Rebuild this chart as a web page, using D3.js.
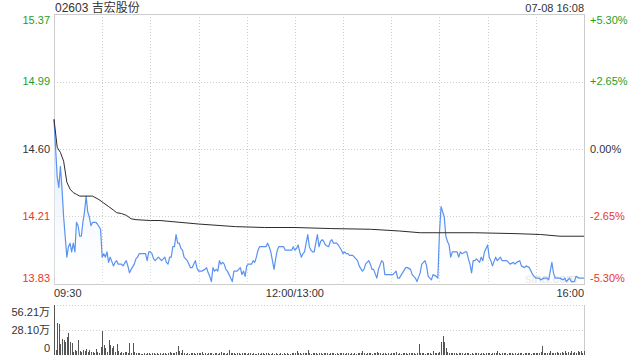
<!DOCTYPE html>
<html>
<head>
<meta charset="utf-8">
<script src="https://cdn.jsdelivr.net/npm/d3@7"></script>
<style>
  body { margin: 0; background: #fff; }
  svg { display: block; font-family: "Liberation Sans", "Noto Sans CJK SC", Arial, sans-serif; }
</style>
</head>
<body>
<svg width="640" height="360"></svg>
<script>
const title = "02603 吉宏股份";
const stamp = "07-08 16:08";
const prevClose = 14.60;
const pctTicks = [5.30, 2.65, 0, -2.65, -5.30];
const timeLabels = ["09:30", "12:00/13:00", "16:00"];
const timeLabelMinutes = [0, 150, 330];
const volTickLabels = ["56.21万", "28.10万", "0"];
const volMax = 56.21;

// [minute since 09:30 (lunch removed), price]
const pricePoints = [[0,14.77],[2,14.44],[3,14.38],[4,14.50],[5,14.37],[6,14.21],[8,13.98],[9,14.04],[10,14.06],[11,14.01],[12,14.06],[13,14.01],[14,14.18],[15,14.16],[16,14.10],[17,14.10],[18,14.18],[19,14.24],[20,14.33],[21,14.24],[22,14.21],[23,14.16],[24,14.18],[26,14.18],[27,14.17],[29,14.14],[30,13.98],[31,14.00],[32,13.98],[33,14.01],[34,13.95],[35,13.98],[37,13.93],[38,13.95],[39,13.96],[40,13.94],[42,13.94],[43,13.93],[45,13.96],[46,13.93],[47,13.89],[48,13.91],[50,13.94],[51,13.97],[52,13.98],[53,14.00],[55,14.00],[57,14.00],[58,13.96],[59,14.01],[60,14.01],[61,14.00],[62,13.97],[63,13.96],[64,13.97],[65,13.98],[67,13.96],[68,13.97],[69,13.98],[70,13.95],[71,13.94],[72,13.98],[73,13.98],[74,14.04],[75,14.04],[76,14.11],[77,14.06],[78,14.06],[79,14.03],[80,14.02],[81,13.98],[82,13.97],[83,13.96],[85,13.92],[86,13.92],[87,13.94],[88,13.96],[89,13.92],[90,13.90],[91,13.90],[92,13.90],[94,13.91],[95,13.92],[96,13.89],[97,13.87],[98,13.84],[99,13.92],[100,13.90],[101,13.91],[102,13.90],[103,13.96],[104,13.94],[105,13.95],[106,13.94],[107,13.91],[108,13.90],[110,13.86],[111,13.84],[112,13.90],[113,13.90],[114,13.90],[116,13.92],[117,13.88],[118,13.90],[119,13.87],[120,13.93],[121,13.94],[122,13.94],[123,13.94],[124,13.96],[125,13.95],[126,13.98],[127,14.02],[128,14.04],[130,14.04],[131,14.04],[132,14.04],[133,14.06],[134,14.04],[135,14.01],[136,13.96],[137,13.91],[138,13.97],[139,14.02],[140,14.04],[141,14.04],[143,14.04],[144,14.02],[146,14.02],[148,14.02],[149,14.04],[150,14.02],[151,14.03],[152,14.05],[153,14.01],[154,13.98],[155,14.00],[156,14.01],[157,14.06],[158,14.11],[159,14.04],[160,14.02],[161,14.01],[162,14.01],[163,14.06],[164,14.11],[165,14.04],[166,14.07],[167,14.08],[168,14.07],[169,14.05],[171,14.04],[172,14.07],[173,14.08],[174,14.06],[176,14.06],[177,14.05],[179,14.02],[180,14.00],[181,14.01],[182,14.00],[183,14.00],[184,13.99],[186,13.99],[187,13.98],[189,13.96],[190,13.93],[192,13.90],[193,13.91],[194,13.94],[196,13.96],[197,13.94],[198,13.91],[199,13.91],[201,13.86],[202,13.91],[204,13.96],[205,13.95],[206,13.88],[208,13.88],[211,13.88],[213,13.90],[214,13.86],[215,13.86],[217,13.89],[219,13.92],[220,13.92],[222,13.91],[223,13.88],[225,13.86],[226,13.84],[228,13.89],[229,13.94],[231,13.96],[232,13.93],[233,13.87],[235,13.85],[236,13.88],[238,13.87],[239,13.86],[240,14.12],[241,14.27],[243,14.21],[244,14.10],[245,14.07],[246,14.05],[247,13.98],[248,14.01],[249,14.01],[250,14.01],[251,14.01],[252,13.98],[253,14.01],[254,14.00],[256,14.01],[257,14.01],[258,13.97],[259,13.94],[260,13.89],[261,13.96],[262,13.96],[263,13.97],[265,13.95],[266,13.98],[267,13.96],[268,14.01],[270,14.05],[271,13.98],[272,13.96],[273,13.93],[275,13.98],[276,13.96],[278,13.98],[279,13.96],[281,13.96],[282,13.96],[284,13.94],[286,13.95],[287,13.94],[288,13.95],[290,13.96],[291,13.93],[293,13.92],[294,13.93],[296,13.92],[297,13.90],[298,13.88],[300,13.86],[302,13.86],[303,13.85],[305,13.86],[307,13.86],[308,13.85],[310,13.95],[311,13.89],[312,13.86],[314,13.86],[315,13.86],[317,13.85],[318,13.86],[319,13.84],[321,13.86],[322,13.84],[324,13.84],[325,13.87],[327,13.86],[328,13.86],[330,13.86]];

const avgPoints = [[0,14.77],[2,14.61],[4,14.58],[6,14.53],[8,14.41],[10,14.37],[12,14.35],[14,14.34],[16,14.33],[24,14.33],[28,14.31],[31,14.29],[34,14.27],[37,14.25],[39,14.235],[42,14.23],[45,14.22],[48,14.20],[51,14.195],[60,14.19],[66,14.19],[90,14.17],[113,14.155],[131,14.15],[150,14.15],[172,14.144],[197,14.14],[215,14.13],[228,14.12],[262,14.12],[287,14.115],[303,14.11],[315,14.10],[330,14.10]];

// volume per minute, in 万 shares
const volumes = [
  56.2, 6, 36, 35, 12, 18, 17, 14.6, 20, 25,
  14.6, 13.5, 3.4, 5.6, 4, 16.9, 4.5, 3, 5.6, 4,
  6.7, 3.4, 5.6, 3, 3.4, 2.5, 6.7, 3, 2.8, 9,
  27, 11.2, 7.9, 3.5, 16.9, 11.2, 7.9, 10.1, 3, 12.4,
  4.5, 2.5, 3.4, 2.2, 3.4, 3.4, 2.5, 13.5, 2.8, 13.1,
  3.4, 2.2, 1.8, 2.5, 1.6, 1.2, 2, 1.5, 1.8, 2.6,
  1.4, 1.8, 2.4, 1.2, 2, 1.6, 2.8, 1.5, 1.8, 2.2,
  1.6, 2.4, 3, 1.8, 2.5, 2, 3.2, 10.1, 4.5, 2.2,
  5.6, 2, 1.6, 2.8, 1.5, 2.4, 1.8, 2.6, 1.4, 2,
  1.8, 2.5, 3.4, 1.6, 2.2, 1.4, 2.8, 1.8, 2.4, 1.5,
  2, 2.6, 1.6, 2.2, 3, 1.8, 2.4, 1.6, 2.8, 5.6,
  2.4, 1.8, 2.6, 1.5, 2, 2.8, 1.6, 2.2, 1.8, 2.4,
  1.4, 2, 1.8, 1.2, 2.4, 1.6, 1.4, 2, 1.6, 1.8,
  2.2, 1.4, 1.8, 2.4, 1.2, 1.6, 2, 1.4, 1.8, 1.2,
  1.6, 2.2, 1.4, 1.8, 1.2, 2, 1.6, 1.4, 2.4, 1.8,
  2.6, 4.5, 1.8, 2.2, 1.6, 2.4, 1.8, 2.6, 5.6, 2,
  1.6, 2.4, 1.8, 2.8, 1.4, 2, 2.6, 1.6, 2.2, 1.8,
  2.4, 1.6, 2, 2.8, 2.2, 1.4, 2, 1.6, 2.4, 1.8,
  2.2, 1.6, 2.4, 1.8, 1.4, 2.6, 1.6, 2, 1.4, 2.2,
  1.8, 2.4, 4.5, 2, 1.6, 2.2, 1.8, 2.6, 1.6, 2,
  2.4, 3.4, 1.8, 2.2, 1.6, 2.4, 1.8, 1.4, 2, 1.6,
  2.2, 1.8, 2.4, 3.4, 1.6, 2, 1.4, 2.2, 1.8, 2.4,
  1.6, 2, 2.6, 1.8, 2.2, 1.6, 2.4, 12, 2, 1.8,
  2.4, 1.6, 2.2, 1.8, 2.6, 1.6, 4.5, 2, 1.8, 2.4,
  3.4, 14.3, 21.4, 14.6, 7.5, 3.4, 2.6, 2, 2.4, 1.8,
  2.2, 1.6, 2.4, 1.8, 2, 1.4, 2.2, 1.8, 2.6, 1.6,
  2, 1.4, 2.2, 1.8, 2.4, 1.6, 2, 2.6, 1.6, 2.2,
  1.8, 2.4, 1.6, 2, 2.8, 1.8, 4.5, 2, 1.6, 2.4,
  1.8, 2.2, 1.6, 2.4, 1.8, 2, 1.4, 2.2, 1.6, 2.4,
  1.8, 2.6, 1.6, 2, 2.4, 1.8, 2.2, 1.6, 2.4, 2,
  1.8, 2.4, 2.2, 3, 10.5, 2.4, 1.8, 2.6, 2, 4.5,
  2.2, 2.8, 1.8, 3.4, 2.4, 2, 3.8, 2.6, 4.5, 2.2,
  3.4, 2.6, 4.5, 2.8, 3.6, 2.4, 5, 3, 4.2, 2.6,
  4.5
];

const green = "#1f9e1f", red = "#e8362b", dark = "#333";
const left = 54, right = 584;
const priceTop = 14, priceBottom = 284;
const volTop = 305, volBottom = 355;

const svg = d3.select("svg");

const x = d3.scaleLinear().domain([0, 330]).range([left, right]);
const priceTicks = pctTicks.map(p => prevClose * (1 + p / 100));
const y = d3.scaleLinear()
    .domain([priceTicks[4], priceTicks[0]])
    .range([priceBottom, priceTop]);
const yVol = d3.scaleLinear().domain([0, volMax]).range([volBottom, volTop]);

const tickColor = p => p > 0 ? green : (p < 0 ? red : dark);

// gradient for area under price
const defs = svg.append("defs");
const grad = defs.append("linearGradient")
    .attr("id", "fillGrad").attr("x1", 0).attr("y1", 0).attr("x2", 0).attr("y2", 1);
grad.append("stop").attr("offset", "0%").attr("stop-color", "#cfe0fb").attr("stop-opacity", 0.9);
grad.append("stop").attr("offset", "100%").attr("stop-color", "#ffffff").attr("stop-opacity", 0.2);

// grid
const grid = svg.append("g").attr("stroke", "#cfcfcf").attr("stroke-dasharray", "1,2").attr("shape-rendering", "crispEdges");
grid.selectAll(".hg")
    .data(priceTicks.slice(1, 4))
    .join("line")
    .attr("x1", left).attr("x2", right)
    .attr("y1", d => Math.round(y(d)) + 0.5).attr("y2", d => Math.round(y(d)) + 0.5);
grid.selectAll(".vg")
    .data(d3.range(30, 330, 30))
    .join("line")
    .attr("y1", priceTop).attr("y2", priceBottom)
    .attr("x1", d => Math.round(x(d)) + 0.5).attr("x2", d => Math.round(x(d)) + 0.5);

// volume grid
svg.append("g").attr("stroke", "#cfcfcf").attr("stroke-dasharray", "1,2")
    .selectAll("line")
    .data([volMax, volMax / 2])
    .join("line")
    .attr("x1", left).attr("x2", right)
    .attr("y1", d => Math.round(yVol(d)) + 0.5).attr("y2", d => Math.round(yVol(d)) + 0.5);

// frames
const frame = svg.append("g").attr("stroke", "#cccccc").attr("fill", "none").attr("shape-rendering", "crispEdges");
frame.append("rect").attr("x", left + 0.5).attr("y", priceTop + 0.5)
    .attr("width", right - left).attr("height", priceBottom - priceTop);
frame.append("line").attr("x1", left + 0.5).attr("x2", left + 0.5).attr("y1", volTop).attr("y2", volBottom);
frame.append("line").attr("x1", right + 0.5).attr("x2", right + 0.5).attr("y1", volTop).attr("y2", volBottom);

// watermark
svg.append("text")
    .attr("x", 551).attr("y", 283)
    .attr("text-anchor", "middle")
    .attr("font-size", "13px")
    .attr("fill", "#e2e2e2")
    .text("sina.com");

// price area and line
const area = d3.area()
    .x(d => x(d[0]))
    .y0(priceBottom)
    .y1(d => y(d[1]));
svg.append("path")
    .datum(pricePoints)
    .attr("fill", "url(#fillGrad)")
    .attr("d", area);

svg.append("path")
    .datum(pricePoints)
    .attr("fill", "none")
    .attr("stroke", "#5a92ef")
    .attr("stroke-width", 1.2)
    .attr("stroke-linejoin", "round")
    .attr("d", d3.line().x(d => x(d[0])).y(d => y(d[1])));

svg.append("path")
    .datum(avgPoints)
    .attr("fill", "none")
    .attr("stroke", "#2b2b2b")
    .attr("stroke-width", 1)
    .attr("d", d3.line().x(d => x(d[0])).y(d => y(d[1])));

// volume bars
svg.append("g")
    .attr("fill", "#555")
    .attr("shape-rendering", "crispEdges")
    .selectAll("rect")
    .data(volumes)
    .join("rect")
    .attr("x", (d, i) => Math.round(x(i)))
    .attr("width", 1)
    .attr("y", d => yVol(d))
    .attr("height", d => volBottom - yVol(d));

// price labels left and right
const nTicks = priceTicks.length;
const labelY = (v, i) => i === 0 ? y(v) + 6 : (i === nTicks - 1 ? y(v) - 6 : y(v));
svg.append("g")
    .selectAll("text")
    .data(priceTicks)
    .join("text")
    .attr("x", 50)
    .attr("y", (d, i) => labelY(d, i))
    .attr("dy", "0.35em")
    .attr("text-anchor", "end")
    .attr("font-size", "11px")
    .attr("fill", (d, i) => tickColor(pctTicks[i]))
    .text(d => d.toFixed(2));

svg.append("g")
    .selectAll("text")
    .data(priceTicks)
    .join("text")
    .attr("x", 590)
    .attr("y", (d, i) => labelY(d, i))
    .attr("dy", "0.35em")
    .attr("font-size", "11px")
    .attr("fill", (d, i) => tickColor(pctTicks[i]))
    .text((d, i) => (pctTicks[i] > 0 ? "+" : "") + pctTicks[i].toFixed(2) + "%");

// time labels
svg.append("g")
    .selectAll("text")
    .data(timeLabels)
    .join("text")
    .attr("x", (d, i) => x(timeLabelMinutes[i]))
    .attr("y", 297)
    .attr("text-anchor", (d, i) => i === 0 ? "start" : (i === timeLabels.length - 1 ? "end" : "middle"))
    .attr("font-size", "11px")
    .attr("fill", dark)
    .text(d => d);

// volume labels
const volVals = [volMax, volMax / 2, 0];
svg.append("g")
    .selectAll("text")
    .data(volTickLabels)
    .join("text")
    .attr("x", 50)
    .attr("y", (d, i) => i === 0 ? yVol(volVals[i]) + 7 : (i === 2 ? yVol(volVals[i]) - 7 : yVol(volVals[i])))
    .attr("dy", "0.35em")
    .attr("text-anchor", "end")
    .attr("font-size", "11px")
    .attr("fill", dark)
    .text(d => d);

// title and timestamp
svg.append("text")
    .attr("x", left + 1).attr("y", 12)
    .attr("font-size", "12px")
    .attr("fill", dark)
    .text(title);
svg.append("text")
    .attr("x", right).attr("y", 12)
    .attr("text-anchor", "end")
    .attr("font-size", "11px")
    .attr("fill", dark)
    .text(stamp);
</script>
</body>
</html>
